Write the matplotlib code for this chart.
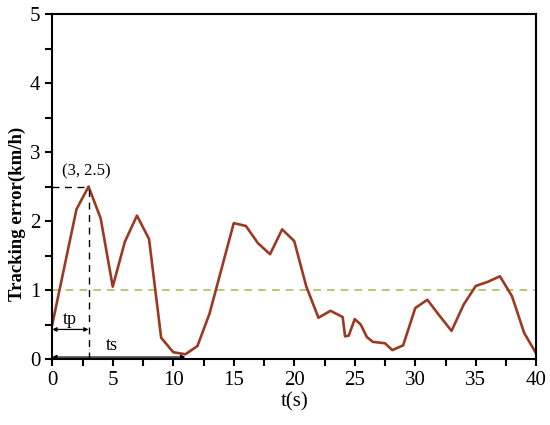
import matplotlib
matplotlib.use("Agg")
import matplotlib.pyplot as plt
from matplotlib.ticker import MultipleLocator

plt.rcParams['font.family'] = ['Liberation Serif', 'DejaVu Serif']

t = [0, 2, 3, 4, 5, 6, 7, 8, 9, 10, 11, 12, 13, 15, 16, 17, 18, 19, 20, 21,
     22, 23, 24, 24.2, 24.5, 25, 25.5, 26, 26.5, 27.5, 28.1, 29, 30, 31, 32,
     33, 34, 35, 36, 37, 38, 39, 40]
err = [0.5, 2.17, 2.5, 2.04, 1.05, 1.7, 2.08, 1.74, 0.31, 0.1, 0.07, 0.19,
       0.66, 1.97, 1.93, 1.68, 1.52, 1.88, 1.71, 1.05, 0.6, 0.7, 0.61, 0.33,
       0.34, 0.58, 0.5, 0.32, 0.25, 0.23, 0.13, 0.2, 0.74, 0.86, 0.63, 0.41,
       0.79, 1.06, 1.12, 1.2, 0.91, 0.38, 0.08]
threshold = 1.0
peak_t, peak_v = 3, 2.5
ts_end = 11.0
tp_y = 0.43
ts_y = 0.03

fig = plt.figure(figsize=(5.5, 4.25), dpi=100)
ax = fig.add_axes([0.095, 0.155, 0.88, 0.812])

ax.axhline(threshold, color='#9ac04a', ls=(0, (5, 4)), lw=1.1)
ax.plot(t, err, color='#9b3a22', lw=1.9)

# peak markers
ax.plot([0, peak_t], [peak_v, peak_v], color='black', ls=(0, (5, 4)), lw=1)
ax.plot([peak_t, peak_t], [0, peak_v], color='black', ls=(0, (5, 4)), lw=1)
ax.text(peak_t - 0.15, peak_v + 0.1, '(3, 2.5)', ha='center', va='bottom', fontsize=12)

arr = dict(arrowstyle='<|-|>', color='black', lw=0.9, shrinkA=0, shrinkB=0,
           mutation_scale=6)
ax.annotate('', xy=(0, tp_y), xytext=(peak_t, tp_y), arrowprops=arr)
ax.text(1.45, tp_y + 0.02, 'tp', ha='center', va='bottom', fontsize=13)
ax.annotate('', xy=(0, ts_y), xytext=(ts_end, ts_y), arrowprops=arr)
ax.text(4.9, ts_y + 0.04, 'ts', ha='center', va='bottom', fontsize=13)

ax.set_xlim(0, 40)
ax.set_ylim(0, 5)
ax.xaxis.set_major_locator(MultipleLocator(5))
ax.xaxis.set_minor_locator(MultipleLocator(2.5))
ax.yaxis.set_major_locator(MultipleLocator(1))
ax.yaxis.set_minor_locator(MultipleLocator(0.5))
ax.tick_params(which='both', direction='out', length=5, width=1.5, labelsize=15)
ax.tick_params(top=False, right=False)
for s in ax.spines.values():
    s.set_linewidth(1.5)

ax.set_xlabel('t(s)', fontsize=15, labelpad=2)
ax.set_ylabel('Tracking error(km/h)', fontsize=13.5, fontweight='bold', labelpad=2)
ax.yaxis.set_label_coords(-0.054, 0.42)

fig.savefig('out.png', dpi=100)
